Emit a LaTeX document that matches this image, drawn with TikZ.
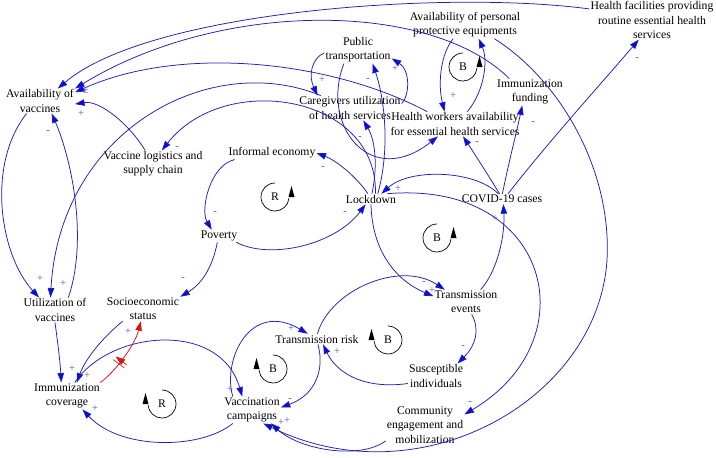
\documentclass[tikz,border=0pt]{standalone}
\usepackage{fontspec}
\setmainfont{Liberation Serif}
\usetikzlibrary{arrows.meta,decorations.markings}
\definecolor{linkblue}{RGB}{30,30,185}
\definecolor{tipblue}{RGB}{10,10,225}
\definecolor{signblue}{RGB}{85,85,195}
\definecolor{delayred}{RGB}{225,20,20}
\tikzset{
  var/.style={font=\fontsize{11.7}{14.2}\selectfont, align=center, inner sep=1pt, text=black},
  sign/.style={font=\fontsize{10.5}{10.5}\selectfont, text=signblue, inner sep=0pt},
  link/.style={draw=linkblue, line width=0.75pt, -{Triangle[length=9.5pt,width=6.5pt,fill=tipblue]}},
  delay/.style={draw=delayred, line width=0.75pt, -{Triangle[length=9.5pt,width=6.5pt]},
    postaction={decorate, decoration={markings, mark=at position 0.38 with {
      \draw[delayred, line width=0.6pt] (-2pt,-7pt) -- (-2pt,7pt) (2pt,-7pt) -- (2pt,7pt);}}}},
  loopname/.style={font=\fontsize{11.7}{14}\selectfont, inner sep=0pt},
  looparc/.style={draw=black, line width=0.7pt},
  loophead/.style={fill=black},
}
\begin{document}
\begin{tikzpicture}[x=1pt,y=-1pt]
\useasboundingbox (0,0) rectangle (716,458);
\fill[white] (0,0) rectangle (716,458);
% variables
\node[var] (av) at (40,101) {Availability of\\vaccines};
\node[var] (pt) at (358,50) {Public\\transportation};
\node[var] (ppe) at (465,25) {Availability of personal\\protective equipments};
\node[var] (hf) at (652,20) {Health facilities providing\\routine essential health\\services};
\node[var] (cg) at (350,108) {Caregivers utilization\\of health services};
\node[var] (hw) at (455,124) {Health workers availability\\for essential health services};
\node[var] (imf) at (530,92) {Immunization\\funding};
\node[var] (vl) at (153,164) {Vaccine logistics and\\supply chain};
\node[var] (ie) at (272,153) {Informal economy};
\node[var] (ld) at (371,199) {Lockdown};
\node[var] (cv) at (502,199) {COVID-19 cases};
\node[var] (pov) at (219,236) {Poverty};
\node[var] (uv) at (55,310) {Utilization of\\vaccines};
\node[var] (ses) at (143,309) {Socioeconomic\\status};
\node[var] (te) at (466,302) {Transmission\\events};
\node[var] (tr) at (317,339) {Transmission risk};
\node[var] (si) at (436,376) {Susceptible\\individuals};
\node[var] (ce) at (425,425) {Community\\engagement and\\mobilization};
\node[var] (ic) at (67,396) {Immunization\\coverage};
\node[var] (vc) at (252,410) {Vaccination\\campaigns};
% links
\draw[link] (hf.170) .. controls (450,-10) and (150,10) .. (av.35);
\draw[link] (imf.147) .. controls (430,0) and (220,0) .. (av.north east);
\draw[link] (hw.156) .. controls (330,60) and (180,45) .. (av.14);
\draw[link] (vl.120) .. controls (130,125) and (100,100) .. (av.-5);
\draw[link] (uv.43) .. controls (88,240) and (72,160) .. (av.-47);
\draw[link] (av.-137) .. controls (-14,165) and (0,255) .. (uv.142);
\draw[link] (cg.157) .. controls (210,50) and (60,130) .. (uv.110);
\draw[link] (uv.-90) .. controls (58,345) and (60,360) .. (ic.113);
\draw[link] (ses.-149) .. controls (100,340) and (85,360) .. (ic.54);
\draw[delay] (ic.22) .. controls (115,372) and (135,345) .. (ses.-100);
\draw[link] (ic.60) .. controls (110,330) and (220,320) .. (vc.126);
\draw[link] (vc.-145) .. controls (200,450) and (120,450) .. (ic.-41);
\draw[link] (vc.145) .. controls (222,360) and (250,300) .. (tr.150);
\draw[link] (tr.-80) .. controls (325,370) and (315,395) .. (vc.5);
\draw[link] (si.-165) .. controls (360,390) and (335,370) .. (tr.-41);
\draw[link] (tr.85) .. controls (330,290) and (400,260) .. (te.150);
\draw[link] (ld.south) .. controls (372,250) and (395,280) .. (te.170);
\draw[link] (te.-65) .. controls (480,330) and (476,345) .. (si.30);
\draw[link] (te.40) .. controls (498,270) and (505,235) .. (cv.-75);
\draw[link] (cv.125) .. controls (475,170) and (410,168) .. (ld.27);
\draw[link] (ld.18) .. controls (550,180) and (590,340) .. (ce.15);
\draw[link] (ppe.-25) .. controls (560,80) and (612,170) .. (607,260) .. controls (598,400) and (420,500) .. (vc.-50);
\draw[link] (ce.-158) .. controls (360,460) and (300,450) .. (vc.-35);
\draw[link] (ld.120) .. controls (355,175) and (335,160) .. (ie.east);
\draw[link] (ld.50) .. controls (378,95) and (225,70) .. (vl.57);
\draw[link] (ld.80) .. controls (378,165) and (375,140) .. (cg.-43);
\draw[link] (ld.38) .. controls (390,150) and (385,100) .. (pt.-43);
\draw[link] (ie.190) .. controls (210,165) and (200,210) .. (pov.139);
\draw[link] (pov.-20) .. controls (270,260) and (335,245) .. (ld.-135);
\draw[link] (pov.-105) .. controls (212,270) and (200,285) .. (ses.north east);
\draw[link] (pt.185) .. controls (312,58) and (308,75) .. (cg.159);
\draw[link] (cg.5) .. controls (410,95) and (410,70) .. (pt.-14);
\draw[link] (pt.-136) .. controls (320,125) and (370,190) .. (hw.-144);
\draw[link] (ppe.-131) .. controls (440,55) and (438,85) .. (hw.130);
\draw[link] (hw.45) .. controls (485,90) and (488,60) .. (ppe.-45);
\draw[link] (cv.115) .. controls (485,170) and (472,150) .. (hw.-57);
\draw[link] (cv.85) .. controls (508,165) and (516,135) .. (imf.-120);
\draw[link] (cv.41) .. controls (550,140) and (600,85) .. (hf.-124);
% polarity signs
\node[sign] (s1) at (86,91) {±};
\node[sign] (s3) at (81,114) {+};
\node[sign] (s4) at (48,132) {-};
\node[sign] (s5) at (40,279) {+};
\node[sign] (s6) at (63,284) {+};
\node[sign] (s7) at (72,369) {+};
\node[sign] (s8) at (87,376) {+};
\node[sign] (s9) at (128,332) {+};
\node[sign] (s10) at (230,390) {+};
\node[sign] (s11) at (95,409) {+};
\node[sign] (s12) at (291,329) {+};
\node[sign] (s13) at (290,400) {-};
\node[sign] (s14) at (337,352) {+};
\node[sign] (s15) at (432,291) {+};
\node[sign] (s16) at (424,283) {-};
\node[sign] (s17) at (463,347) {-};
\node[sign] (s18) at (495,219) {+};
\node[sign] (s19) at (398,189) {+};
\node[sign] (s20) at (470,403) {-};
\node[sign] (s21) at (281,423) {+};
\node[sign] (s22) at (287,421) {+};
\node[sign] (s23) at (323,168) {-};
\node[sign] (s24) at (215,213) {-};
\node[sign] (s25) at (345,213) {-};
\node[sign] (s26) at (183,279) {-};
\node[sign] (s27) at (177,148) {-};
\node[sign] (s28) at (360,138) {-};
\node[sign] (s29) at (368,80) {-};
\node[sign] (s30) at (395,69) {+};
\node[sign] (s31) at (322,80) {+};
\node[sign] (s32) at (430,142) {+};
\node[sign] (s33) at (453,96) {+};
\node[sign] (s34) at (477,143) {-};
\node[sign] (s35) at (533,123) {-};
\node[sign] (s36) at (637,59) {-};
% loop markers: arrow on the right, turning counter-clockwise
\node[loopname] (lb1) at (463,67) {B};
\node[loopname] (lr1) at (275,197) {R};
\node[loopname] (lb2) at (437,238) {B};
\foreach \c in {lb1,lr1,lb2} {
  \draw[looparc] ([yshift=14pt]\c.center) arc[start angle=90, end angle=355, radius=14pt];
  \fill[loophead] ([shift={(16.5,-11)}]\c.center) -- ([shift={(19.5,0)}]\c.center) -- ([shift={(13.5,0)}]\c.center) -- cycle;
}
% loop markers: arrow on the left, turning clockwise
\node[loopname] (lb3) at (388,340) {B};
\node[loopname] (lb4) at (273,369) {B};
\node[loopname] (lr2) at (162,404) {R};
\foreach \c in {lb3,lb4,lr2} {
  \draw[looparc] ([yshift=14pt]\c.center) arc[start angle=90, end angle=-175, radius=14pt];
  \fill[loophead] ([shift={(-16.5,-11)}]\c.center) -- ([shift={(-19.5,0)}]\c.center) -- ([shift={(-13.5,0)}]\c.center) -- cycle;
}
\end{tikzpicture}
\end{document}
